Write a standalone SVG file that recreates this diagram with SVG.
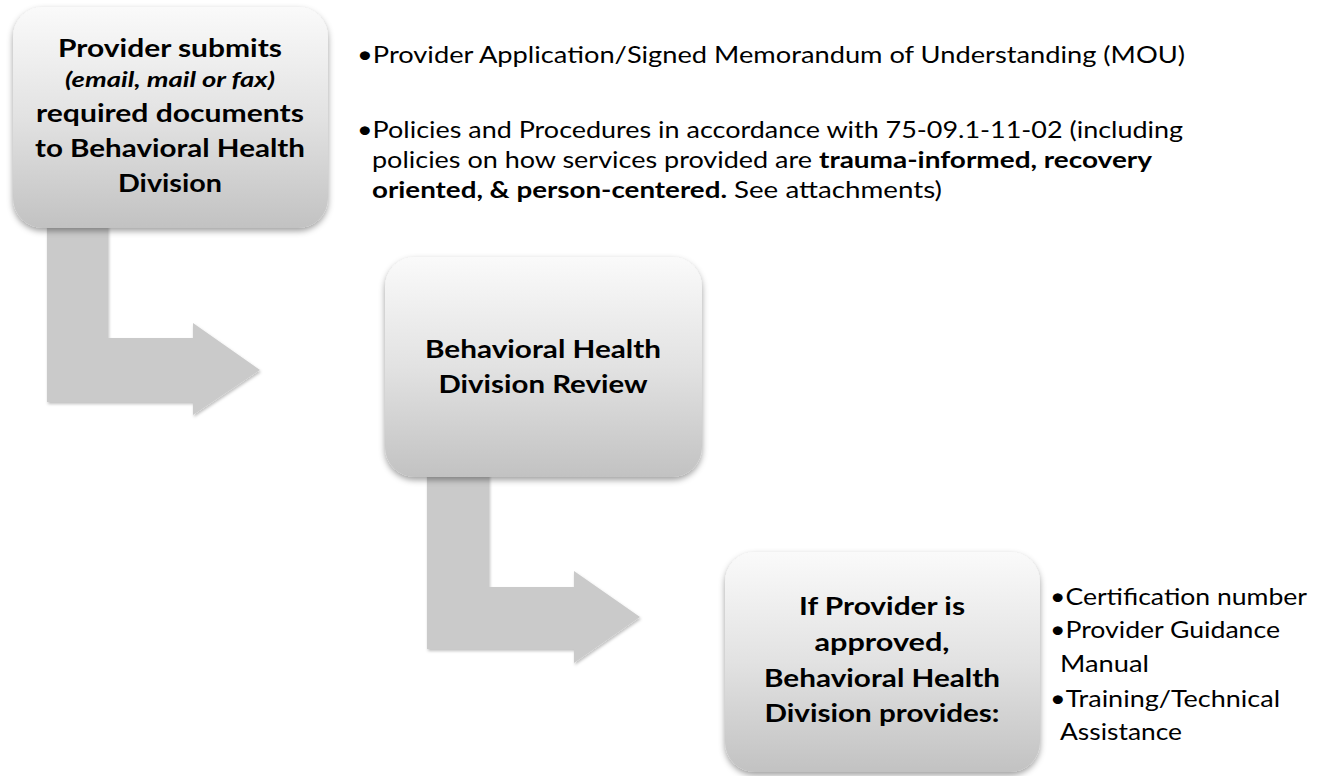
<svg xmlns="http://www.w3.org/2000/svg" width="1323" height="776" viewBox="0 0 1323 776">
<style>
text{font-family:Lato,"Open Sans","Liberation Sans",sans-serif;fill:#000}
.b{font-weight:700;font-size:25.5px;text-anchor:middle}
.bi{font-weight:700;font-style:italic;font-size:21.5px;text-anchor:middle}
.r{font-size:23.5px}
.rb{font-size:23.5px;font-weight:700}
.r2{font-size:24px}
.box{fill:url(#g);filter:url(#sh)}
.arr{fill:#cacaca;filter:url(#ash)}
</style>
<defs>
<linearGradient id="g" x1="0" y1="0" x2="0" y2="1">
<stop offset="0" stop-color="#fafafa"/>
<stop offset="0.5" stop-color="#e2e2e2"/>
<stop offset="1" stop-color="#c2c2c2"/>
</linearGradient>
<filter id="sh" x="-10%" y="-10%" width="120%" height="125%">
<feDropShadow dx="0" dy="3" stdDeviation="3" flood-color="#000" flood-opacity="0.38"/>
</filter>
<filter id="ash" x="-10%" y="-10%" width="120%" height="125%">
<feDropShadow dx="1" dy="2" stdDeviation="1.5" flood-color="#000" flood-opacity="0.25"/>
</filter>
</defs>
<rect width="1323" height="776" fill="#fff"/>
<g id="connectors">
<path class="arr" d="M47,200 H108 V338 H193 V323 L260,370 L193,415 V402 H47 Z"/>
<path class="arr" d="M427,450 H489 V587 H574 V571 L640,617 L574,663 V649 H427 Z"/>
</g>
<g id="n1">
<rect class="box" x="13" y="7" width="315" height="221" rx="30"/>
<text class="b" x="170" y="57" textLength="224" lengthAdjust="spacingAndGlyphs">Provider submits</text>
<text class="bi" x="170" y="87" textLength="210" lengthAdjust="spacingAndGlyphs">(email, mail or fax)</text>
<text class="b" x="170" y="122" textLength="268" lengthAdjust="spacingAndGlyphs">required documents</text>
<text class="b" x="170" y="157" textLength="270" lengthAdjust="spacingAndGlyphs">to Behavioral Health</text>
<text class="b" x="170" y="192" textLength="104" lengthAdjust="spacingAndGlyphs">Division</text>
</g>
<g id="n1-details">
<text class="r" x="357" y="63" textLength="828" lengthAdjust="spacingAndGlyphs">•Provider Application/Signed Memorandum of Understanding (MOU)</text>
<text class="r" x="357" y="138" textLength="826" lengthAdjust="spacingAndGlyphs">•Policies and Procedures in accordance with 75-09.1-11-02 (including</text>
<text class="r" x="372" y="168" textLength="440" lengthAdjust="spacingAndGlyphs">policies on how services provided are</text>
<text class="rb" x="819" y="168" textLength="333" lengthAdjust="spacingAndGlyphs">trauma-informed, recovery</text>
<text class="rb" x="372" y="198" textLength="355" lengthAdjust="spacingAndGlyphs">oriented, &amp; person-centered.</text>
<text class="r" x="734" y="198" textLength="208" lengthAdjust="spacingAndGlyphs">See attachments)</text>
</g>
<g id="n2">
<rect class="box" x="385" y="257" width="317" height="220" rx="30"/>
<text class="b" x="543" y="358" textLength="236" lengthAdjust="spacingAndGlyphs">Behavioral Health</text>
<text class="b" x="543" y="393" textLength="209" lengthAdjust="spacingAndGlyphs">Division Review</text>
</g>
<g id="n3">
<rect class="box" x="725" y="552" width="315" height="220" rx="30"/>
<text class="b" x="882" y="615" textLength="166" lengthAdjust="spacingAndGlyphs">If Provider is</text>
<text class="b" x="882" y="651" textLength="135" lengthAdjust="spacingAndGlyphs">approved,</text>
<text class="b" x="882" y="687" textLength="236" lengthAdjust="spacingAndGlyphs">Behavioral Health</text>
<text class="b" x="882" y="722" textLength="235" lengthAdjust="spacingAndGlyphs">Division provides:</text>
</g>
<g id="n3-details">
<text class="r2" x="1050" y="605" textLength="257" lengthAdjust="spacingAndGlyphs">•Certification number</text>
<text class="r2" x="1050" y="638" textLength="230" lengthAdjust="spacingAndGlyphs">•Provider Guidance</text>
<text class="r2" x="1060" y="672" textLength="89" lengthAdjust="spacingAndGlyphs">Manual</text>
<text class="r2" x="1050" y="707" textLength="230" lengthAdjust="spacingAndGlyphs">•Training/Technical</text>
<text class="r2" x="1060" y="740" textLength="122" lengthAdjust="spacingAndGlyphs">Assistance</text>
</g>
</svg>
